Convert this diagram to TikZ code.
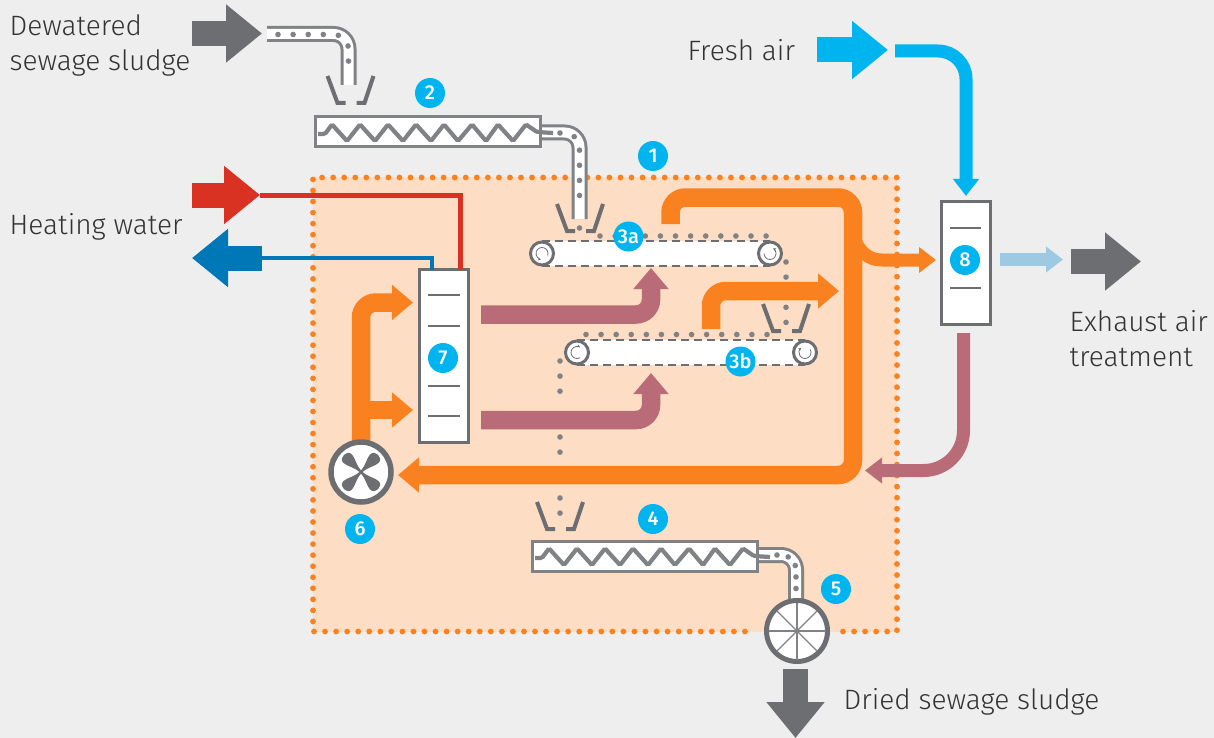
\documentclass[tikz,border=0pt]{standalone}
\usepackage{fontspec}
\setmainfont{Fira Sans}[UprightFont=* Light,BoldFont=* Medium]
\usetikzlibrary{arrows.meta,positioning}

\definecolor{pagegray}{HTML}{EEEEEE}
\definecolor{zonepeach}{HTML}{FDDEC4}
\definecolor{airorange}{HTML}{F98120}
\definecolor{exhaustrose}{HTML}{B96B77}
\definecolor{badgeblue}{HTML}{00B5EF}
\definecolor{coolblue}{HTML}{0077B6}
\definecolor{paleblue}{HTML}{9DC9E2}
\definecolor{hotred}{HTML}{D93222}
\definecolor{darkgray}{HTML}{6D6E71}
\definecolor{midgray}{HTML}{808285}
\definecolor{inkgray}{HTML}{333335}

\tikzset{
  bigarrow/.style={line width=25pt,-{Triangle[length=36pt,width=56pt]}},
  midarrow/.style={line width=18.5pt,rounded corners=15pt,-{Triangle[length=21pt,width=34pt]}},
  smallarrow/.style={line width=13pt,-{Triangle[length=17pt,width=25pt]}},
  waterline/.style={line width=5pt},
  zonedots/.style={draw=airorange,line cap=round,line width=5.8pt,dash pattern=on 0pt off 11.05pt},
  sludgedots/.style={draw=midgray,line cap=round,line width=5.6pt,dash pattern=on 0pt off 15.1pt},
  tube/.style={draw=midgray,line width=3pt,double=white,double distance=10pt,rounded corners=15pt},
  unitbox/.style={draw=darkgray,fill=white,line width=3pt,inner sep=0pt,outer sep=0pt},
  unitrule/.style={draw=darkgray,line width=1.3pt},
  beltbody/.style={fill=white,inner sep=0pt,outer sep=0pt,minimum height=25pt},
  beltedge/.style={draw=darkgray,line width=1.2pt,dash pattern=on 8pt off 5pt},
  roller/.style={circle,draw=darkgray,fill=white,line width=3pt,minimum size=23pt,inner sep=0pt,outer sep=0pt},
  spin/.style={draw=darkgray,line width=.8pt,-{Stealth[length=3pt,width=3pt]}},
  machine/.style={circle,draw=darkgray,fill=white,line width=5.5pt,minimum size=60pt,inner sep=0pt,outer sep=0pt},
  spoke/.style={draw=midgray,line width=1.3pt,shorten >=2pt,shorten <=2pt},
  badge/.style={circle,fill=badgeblue,text=white,minimum size=30pt,inner sep=0pt,font=\fontsize{20}{20}\selectfont\bfseries},
  caption/.style={anchor=west,align=left,inner sep=0pt,text=inkgray,font=\fontsize{28}{35}\selectfont},
  hopper/.pic={
    \draw[draw=darkgray,line width=4pt] (-22,0) -- (-12,27) -- (-4,27);
    \draw[draw=darkgray,line width=4pt] (24,0) -- (15,27) -- (7,27);
  },
  screw/.pic={
    \draw[draw=midgray,fill=white,line width=3pt] (0,0) rectangle (225,30);
    \draw[draw=midgray,line width=4.2pt,rounded corners=1.5pt] (3,17) -- (10,17) -- (17,7.5) -- (32,24) -- (45,7.5)
      -- (60,24) -- (73,7.5) -- (88,24) -- (101,7.5) -- (116,24) -- (129,7.5) -- (143,24) -- (157,7.5)
      -- (171,24) -- (183,7.5) -- (198,24) -- (211,7.5) -- (222,15) -- (238,16);
  },
  fanblade/.pic={
    \fill[darkgray] (0,-1) .. controls (9,-1.5) and (14,-6) .. (19,-6) .. controls (26,-6) and (26,6) .. (19,6) .. controls (14,6) and (9,1.5) .. (0,1) -- cycle;
  }
}

\begin{document}
\begin{tikzpicture}[x=1pt,y=-1pt]
      \useasboundingbox[fill=pagegray] (0,0) rectangle (1214,738);

      % dryer zone
      \fill[zonepeach] (313,177.5) rectangle (897,631.5);
      \draw[zonedots] (843,631.5) -- (897,631.5) -- (897,177.5) -- (313,177.5) -- (313,631.5) -- (748,631.5);

      \coordinate (feedstart) at (267,34);
      \coordinate (feeddrop) at (348.5,85);
      \coordinate (screwout) at (540,132.5);
      \coordinate (screwdrop) at (579.5,219);
      \coordinate (lowout) at (757,555);
      \coordinate (lowdrop) at (796,600);

      % sludge path
      \draw[tube] (feedstart) -| (feeddrop);
      \draw[sludgedots,rounded corners=15pt] (278,34.5) -| (348.5,76);
      \pic at (349.5,76) {hopper};
      \draw[tube] (screwout) -| (screwdrop);
      \pic at (315,117) {screw};
      \draw[sludgedots,rounded corners=15pt] (560,133) -| (579.5,199);
      \fill[midgray] (579.5,228) circle (2.8);
      \pic at (579,204) {hopper};
      \draw[tube] (lowout) -| (lowdrop);
      \pic at (532,541) {screw};
      \draw[sludgedots,rounded corners=15pt,dash pattern=on 0pt off 11.5pt] (777,555) -| (796,593);

      % belts
      \node[beltbody,minimum width=228pt] (belta) at (656,253.5) {};
      \node[beltbody,minimum width=228pt] (beltb) at (691,352.5) {};
      \draw[beltedge] (belta.north west) -- (belta.north east);
      \draw[beltedge] (belta.south west) -- (belta.south east);
      \draw[beltedge] (beltb.north west) -- (beltb.north east);
      \draw[beltedge] (beltb.south west) -- (beltb.south east);
      \node[roller] (rollera1) at (belta.west) {};
      \node[roller] (rollera2) at (belta.east) {};
      \node[roller] (rollerb1) at (beltb.west) {};
      \node[roller] (rollerb2) at (beltb.east) {};
      \draw[spin,shift={(rollera1)}] (20:6) arc (20:-260:6);
      \draw[spin,shift={(rollera2)}] (180:6) arc (180:-60:6);
      \draw[spin,shift={(rollerb1)}] (60:6) arc (60:300:6);
      \draw[spin,shift={(rollerb2)}] (-30:6) arc (-30:230:6);
      \draw[sludgedots] (600,236) -- (768,236);
      \draw[sludgedots] (786,262) -- (786,323);
      \draw[sludgedots,dash pattern=on 0pt off 15.08pt] (586,334.5) -- (769,334.5);
      \pic at (785,304) {hopper};
      \draw[sludgedots] (560,361) -- (560,393);
      \draw[sludgedots] (560,437) -- (560,453);
      \draw[sludgedots] (560,498) -- (560,514);
      \pic at (559,502) {hopper};

      % units
      \node[unitbox,minimum width=49pt,minimum height=173pt] (heater) at (444,356) {};
      \node[unitbox,minimum width=49pt,minimum height=123pt] (scrubber) at (965.5,263) {};
      \draw[unitrule] (428,295) -- (460,295);
      \draw[unitrule] (428,326) -- (460,326);
      \draw[unitrule] (428,386) -- (460,386);
      \draw[unitrule] (428,416) -- (460,416);
      \draw[unitrule] (950,228) -- (981,228);
      \draw[unitrule] (950,288) -- (981,288);

      \coordinate (dryerout) at (670.5,224);
      \coordinate (fanin) at (398,475);
      \coordinate (upperin) at (413,302.5);
      \coordinate (lowerin) at (413,410);
      \coordinate (beltaout) at (711,329);
      \coordinate (collect) at (839,291);
      \coordinate (scrubberin) at (936,260);
      \coordinate (scrubberout) at (963.5,333);
      \coordinate (returnin) at (865,470.5);
      \coordinate (heaterout1) at (481,314.5);
      \coordinate (heaterup1) at (651,268);
      \coordinate (heaterout2) at (481,420);
      \coordinate (heaterup2) at (651,373);
      \coordinate (freshstart) at (895,51);
      \coordinate (freshend) at (966,196);

      % air paths
      \draw[midarrow,draw=airorange] (dryerout) |- (853,197.5) |- (fanin);
      \draw[smallarrow,draw=airorange] (853,237) .. controls (860,252) and (868,260) .. (882,260) -- (scrubberin);
      \draw[midarrow,draw=airorange] (beltaout) |- (collect);
      \draw[midarrow,draw=exhaustrose] (heaterout1) -| (heaterup1);
      \draw[midarrow,draw=exhaustrose] (heaterout2) -| (heaterup2);
      \draw[smallarrow,draw=exhaustrose,rounded corners=40pt] (scrubberout) |- (returnin);
      \draw[smallarrow,draw=badgeblue,rounded corners=28pt] (freshstart) -| (freshend);
      \draw[smallarrow,draw=paleblue] (1000,259.5) -- (1063,259.5);

      % fan and wheel
      \coordinate (fanpos) at (361,472);
      \draw[midarrow,draw=airorange] (fanpos) |- (upperin);
      \draw[midarrow,draw=airorange] (fanpos |- lowerin) -- (lowerin);
      \node[machine] (fan) at (fanpos) {};
      \node[machine,line width=5pt,minimum size=61pt] (wheel) at (797,631) {};
      \pic[rotate=45] at (fan) {fanblade};
      \pic[rotate=135] at (fan) {fanblade};
      \pic[rotate=225] at (fan) {fanblade};
      \pic[rotate=315] at (fan) {fanblade};
      \draw[spoke] (wheel.north) -- (wheel.south);
      \draw[spoke] (wheel.west) -- (wheel.east);
      \draw[spoke] (wheel.north west) -- (wheel.south east);
      \draw[spoke] (wheel.north east) -- (wheel.south west);

      % heating water
      \coordinate (hotstart) at (192,195);
      \coordinate (hottip) at (260,195);
      \coordinate (coldstart) at (262,258);
      \coordinate (coldtip) at (192,258);
      \draw[waterline,draw=hotred] (hottip) -| (heater.north -| 460,269);
      \draw[bigarrow,draw=hotred] (hotstart) -- (hottip);
      \draw[waterline,line width=4pt,draw=coolblue] (coldstart) -| (heater.north -| 432,269);
      \draw[bigarrow,draw=coolblue] (coldstart) -- (coldtip);

      % feed and product arrows
      \coordinate (sludgestart) at (192,33.5);
      \coordinate (sludgetip) at (262,33.5);
      \coordinate (airstart) at (817,50);
      \coordinate (airtip) at (888,50);
      \coordinate (ventstart) at (1071,261.5);
      \coordinate (venttip) at (1141,261.5);
      \coordinate (productstart) at (795.5,669);
      \coordinate (producttip) at (795.5,738);
      \draw[bigarrow,draw=darkgray] (sludgestart) -- (sludgetip);
      \draw[bigarrow,draw=badgeblue] (airstart) -- (airtip);
      \draw[bigarrow,draw=darkgray] (ventstart) -- (venttip);
      \draw[bigarrow,draw=darkgray] (productstart) -- (producttip);

      \node[badge] (badge1) at (653,156) {1};
      \node[badge] (badge2) at (430,93) {2};
      \node[badge] (badge3a) at (628.5,236.5) {3a};
      \node[badge] (badge3b) at (740.5,361.5) {3b};
      \node[badge] (badge4) at (653,519) {4};
      \node[badge] (badge5) at (836,589) {5};
      \node[badge] (badge6) at (360,529) {6};
      \node[badge] (badge7) at (443,358) {7};
      \node[badge] (badge8) at (965,260) {8};

      \node[caption] (sludgetext) at (9.5,45.5) {Dewatered\\sewage sludge};
      \node[caption] (watertext) at (9.5,226.5) {Heating water};
      \node[caption] (airtext) at (687.5,50) {Fresh air};
      \node[caption] (venttext) at (1069.5,339) {Exhaust air\\treatment};
      \node[caption] (producttext) at (843.5,701.5) {Dried sewage sludge};
    \end{tikzpicture}
\end{document}
